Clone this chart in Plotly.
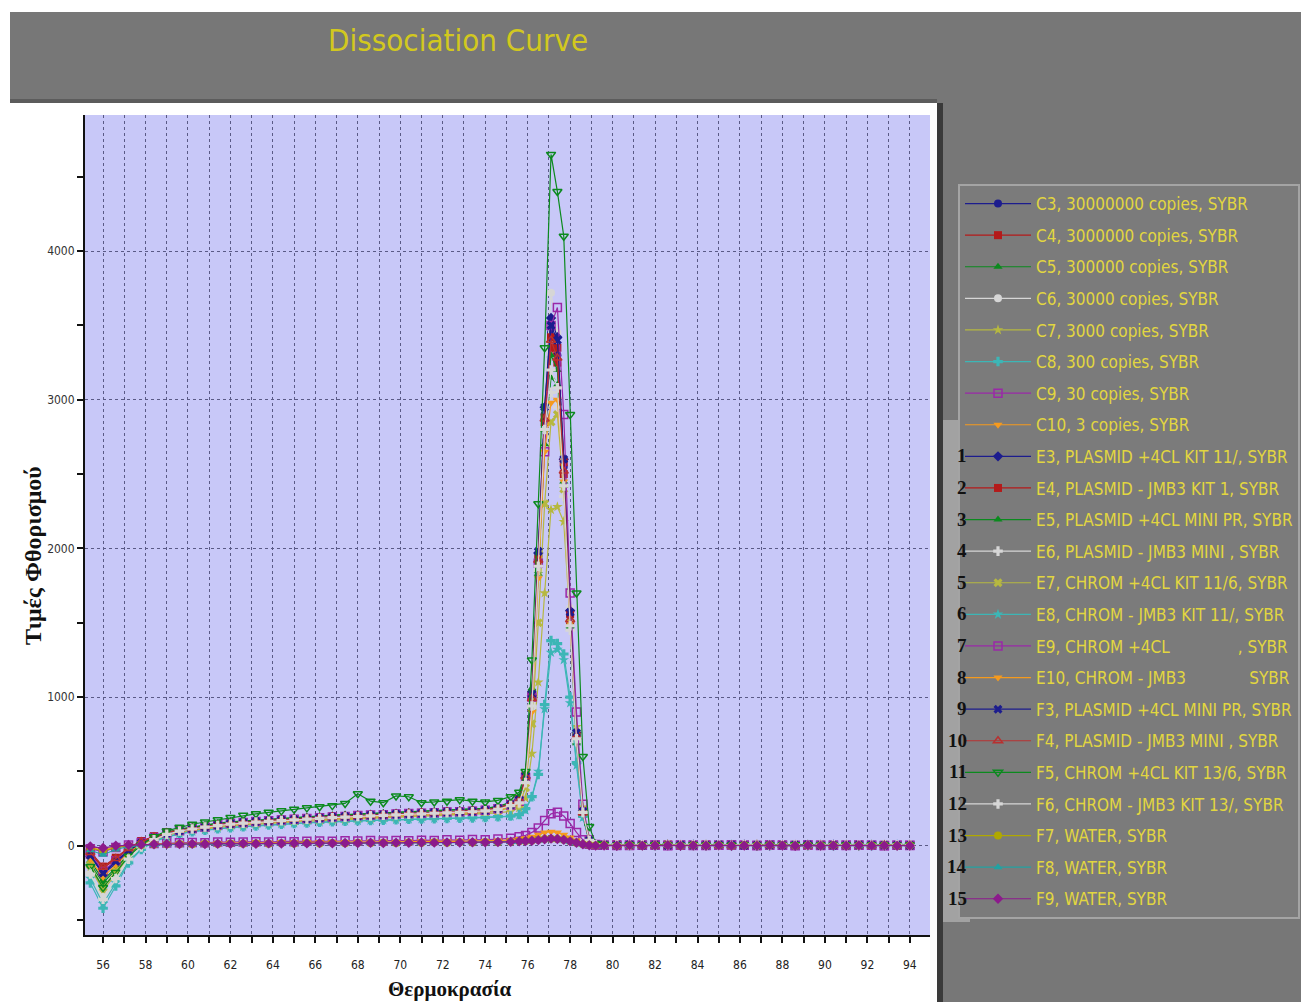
import plotly.graph_objects as go

# ---------------- data ----------------
temperature = [
    55.4, 56.0, 56.6, 57.2, 57.8, 58.4, 59.0, 59.6, 60.2, 60.8, 61.4, 62.0, 62.6, 63.2, 63.8, 64.4, 65.0,
    65.6, 66.2, 66.8, 67.4, 68.0, 68.6, 69.2, 69.8, 70.4, 71.0, 71.6, 72.2, 72.8, 73.4, 74.0, 74.6, 75.2,
    75.6, 75.9, 76.2, 76.5, 76.8, 77.1, 77.4, 77.7, 78.0, 78.3, 78.6, 78.9, 79.2,
    79.6, 80.2, 80.8, 81.4, 82.0, 82.6, 83.2, 83.8, 84.4, 85.0, 85.6, 86.2, 86.8, 87.4, 88.0, 88.6, 89.2,
    89.8, 90.4, 91.0, 91.6, 92.2, 92.8, 93.4, 94.0,
]

C3 = [-60, -180, -110, -35, 20, 55, 85, 100, 115, 125, 140, 150, 155, 162, 168, 172, 178, 183, 188, 192, 196, 202, 206, 208, 212, 216, 218, 222, 226, 228, 232, 238, 248, 272,
      300, 450, 1000, 1950, 2900, 3450, 3300, 2550, 1550, 750, 230, 35, 8,
      8, 5, 10, 3, 6, 2, 7, 4, 5, 3, 6, 2, 4, 5, 3, 6, 4, 2, 5, 3, 4, 6, 2, 4, 3]
C4 = [-50, -150, -90, -20, 30, 62, 90, 106, 118, 130, 142, 150, 158, 165, 170, 175, 180, 184, 190, 195, 198, 201, 205, 210, 214, 218, 221, 224, 228, 231, 234, 241, 252, 280,
      310, 470, 1020, 1900, 2850, 3350, 3250, 2500, 1500, 720, 220, 32, 7,
      6, 8, 4, 7, 3, 5, 6, 2, 8, 4, 5, 3, 6, 4, 7, 3, 5, 4, 6, 2, 5, 3, 6, 4, 5]
C5 = [-120, -250, -160, -60, 10, 50, 85, 110, 125, 136, 150, 160, 166, 172, 178, 183, 188, 193, 198, 204, 208, 212, 216, 220, 222, 227, 230, 233, 236, 240, 245, 251, 262, 290,
      320, 480, 1050, 1850, 2800, 3300, 3200, 2450, 1480, 700, 210, 30, 6,
      4, 7, 3, 6, 5, 2, 6, 4, 3, 7, 2, 5, 4, 6, 3, 5, 2, 6, 4, 3, 5, 7, 3, 4, 2]
C6 = [-200, -380, -230, -95, -10, 40, 78, 100, 115, 128, 138, 148, 153, 160, 165, 170, 176, 180, 186, 190, 194, 198, 203, 206, 210, 214, 217, 220, 224, 227, 230, 236, 246, 272,
      290, 430, 950, 1950, 3000, 3720, 3450, 2600, 1600, 780, 240, 40, 8,
      5, 3, 7, 4, 6, 2, 5, 8, 3, 4, 6, 2, 5, 3, 7, 4, 2, 6, 3, 5, 4, 2, 6, 3, 5]
C7 = [-150, -300, -190, -75, 0, 40, 70, 90, 104, 115, 125, 132, 138, 145, 150, 155, 160, 165, 168, 172, 176, 180, 184, 187, 190, 194, 196, 200, 204, 206, 210, 216, 222, 232,
      255, 320, 620, 1100, 1700, 2260, 2280, 2180, 1500, 800, 260, 45, 8,
      6, 4, 8, 3, 5, 7, 2, 4, 6, 3, 5, 4, 7, 2, 5, 3, 6, 4, 3, 5, 2, 6, 4, 3, 5]
C8 = [-250, -420, -270, -115, -25, 28, 58, 80, 95, 105, 115, 122, 128, 134, 140, 145, 150, 154, 158, 162, 165, 168, 170, 172, 175, 178, 180, 182, 184, 186, 188, 190, 196, 200,
      210, 250, 330, 480, 950, 1380, 1360, 1290, 1000, 560, 200, 35, 6,
      4, 6, 3, 5, 2, 7, 4, 3, 6, 5, 2, 4, 6, 3, 5, 4, 2, 6, 3, 4, 5, 3, 2, 5, 4]
C9 = [-20, -40, -12, 5, 10, 15, 18, 20, 22, 20, 25, 24, 26, 28, 25, 30, 28, 30, 32, 30, 34, 32, 35, 33, 36, 34, 38, 36, 40, 38, 42, 40, 45, 50,
      60, 70, 90, 120, 170, 215, 225, 200, 150, 90, 40, 10, 4,
      3, 5, 2, 4, 6, 3, 5, 2, 4, 3, 5, 4, 2, 6, 3, 4, 5, 2, 3, 5, 4, 3, 2, 4, 3]
C10 = [-10, -30, -5, 2, 8, 12, 14, 15, 16, 18, 17, 19, 20, 22, 21, 23, 22, 24, 25, 24, 26, 25, 27, 28, 26, 28, 30, 29, 31, 30, 32, 33, 35, 38,
       45, 50, 60, 75, 90, 95, 90, 75, 55, 35, 15, 5, 2,
       2, 4, 1, 3, 5, 2, 3, 1, 4, 2, 3, 5, 1, 3, 2, 4, 3, 1, 2, 4, 3, 2, 1, 3, 2]
E3 = [-70, -190, -120, -40, 15, 52, 82, 98, 112, 124, 138, 148, 154, 160, 166, 171, 176, 182, 186, 191, 195, 200, 204, 207, 211, 215, 217, 221, 225, 227, 231, 237, 247, 270,
      305, 460, 1010, 1970, 2950, 3550, 3420, 2600, 1580, 760, 235, 36, 8,
      7, 4, 9, 5, 3, 6, 4, 8, 2, 5, 3, 7, 4, 2, 6, 3, 5, 4, 7, 2, 4, 5, 3, 6, 4]
E4 = [-40, -140, -80, -15, 32, 64, 92, 108, 120, 132, 144, 152, 160, 166, 171, 176, 181, 186, 191, 196, 199, 203, 207, 211, 215, 219, 222, 225, 229, 232, 236, 242, 254, 282,
      315, 470, 1000, 1930, 2880, 3420, 3350, 2580, 1560, 740, 225, 34, 7,
      5, 7, 3, 6, 4, 8, 2, 5, 6, 3, 7, 4, 5, 2, 6, 4, 3, 7, 5, 2, 6, 3, 4, 5, 3]
E5 = [-100, -230, -150, -55, 12, 52, 88, 112, 127, 138, 152, 161, 167, 174, 180, 185, 190, 195, 200, 206, 210, 214, 218, 221, 224, 228, 231, 235, 238, 242, 246, 252, 265, 292,
      330, 490, 1060, 1830, 2700, 3150, 3100, 2420, 1470, 690, 205, 30, 6,
      3, 6, 4, 7, 2, 5, 3, 6, 4, 5, 7, 2, 4, 6, 3, 5, 4, 2, 6, 3, 4, 5, 2, 6, 3]
E6 = [-180, -350, -210, -85, -5, 42, 78, 98, 112, 124, 135, 145, 151, 158, 163, 168, 173, 178, 183, 188, 192, 196, 200, 204, 207, 211, 214, 218, 221, 224, 228, 234, 244, 268,
      285, 420, 930, 1850, 2750, 3050, 2950, 2350, 1450, 700, 215, 34, 7,
      6, 3, 5, 2, 7, 4, 6, 3, 5, 2, 4, 7, 3, 5, 6, 2, 4, 3, 6, 5, 3, 4, 7, 2, 5]
E7 = [-130, -280, -170, -65, 5, 45, 75, 95, 108, 119, 130, 138, 144, 150, 156, 161, 166, 170, 175, 179, 183, 187, 190, 193, 197, 200, 203, 206, 210, 213, 217, 223, 233, 258,
      275, 390, 820, 1500, 2300, 2850, 2900, 2400, 1500, 760, 240, 38, 8,
      4, 6, 2, 5, 7, 3, 4, 6, 2, 5, 3, 6, 4, 5, 2, 7, 3, 4, 6, 2, 5, 3, 6, 4, 2]
E8 = [-220, -390, -250, -105, -20, 30, 60, 82, 96, 106, 116, 123, 129, 135, 141, 146, 151, 155, 159, 163, 166, 169, 171, 173, 176, 179, 181, 183, 185, 187, 189, 191, 195, 198,
      205, 240, 330, 500, 920, 1300, 1320, 1250, 960, 540, 190, 32, 6,
      5, 3, 6, 2, 4, 7, 3, 5, 4, 2, 6, 3, 5, 4, 7, 2, 4, 6, 3, 5, 2, 4, 3, 6, 4]
E9 = [-55, -170, -100, -30, 22, 56, 86, 102, 116, 127, 141, 151, 157, 164, 169, 174, 179, 184, 189, 193, 197, 203, 207, 209, 213, 217, 219, 223, 227, 229, 233, 239, 249, 274,
      300, 460, 1000, 1900, 2650, 3500, 3620, 2900, 1700, 900, 280, 40, 8,
      4, 2, 6, 3, 5, 1, 4, 6, 2, 3, 5, 4, 2, 6, 3, 1, 5, 3, 4, 2, 6, 3, 1, 4, 2]
E10 = [-90, -210, -130, -45, 15, 50, 80, 96, 110, 122, 134, 143, 149, 156, 161, 166, 171, 176, 181, 185, 189, 194, 198, 201, 205, 208, 211, 215, 218, 221, 225, 231, 241, 266,
       280, 420, 900, 1800, 2650, 2980, 3000, 2450, 1500, 740, 230, 36, 7,
       3, 5, 2, 6, 4, 3, 7, 2, 5, 4, 6, 3, 2, 5, 4, 6, 3, 5, 2, 4, 3, 6, 4, 2, 5]
F3 = [-65, -185, -105, -32, 18, 54, 84, 101, 114, 126, 139, 149, 156, 163, 167, 173, 177, 182, 187, 193, 197, 201, 205, 209, 213, 216, 219, 223, 227, 229, 233, 239, 250, 276,
      310, 470, 1020, 1980, 2950, 3500, 3400, 2600, 1570, 760, 230, 35, 8,
      6, 4, 7, 3, 5, 2, 6, 4, 3, 7, 5, 2, 4, 6, 3, 5, 7, 2, 4, 3, 6, 5, 3, 4, 2]
F4 = [-45, -145, -85, -18, 28, 60, 88, 104, 117, 129, 141, 149, 157, 163, 169, 174, 179, 183, 189, 194, 197, 200, 204, 209, 213, 217, 220, 223, 227, 230, 233, 240, 251, 278,
      305, 465, 990, 1920, 2870, 3400, 3280, 2520, 1520, 730, 220, 33, 7,
      5, 3, 6, 4, 2, 7, 5, 3, 6, 4, 2, 5, 7, 3, 4, 6, 2, 5, 3, 6, 4, 2, 5, 3, 6]
F5 = [-140, -280, -180, -70, 5, 60, 100, 125, 145, 160, 175, 190, 205, 215, 225, 235, 245, 255, 262, 270, 285, 350, 300, 290, 335, 330, 290, 295, 300, 310, 300, 295, 305, 330,
      360, 500, 1250, 2300, 3350, 4650, 4400, 4100, 2900, 1700, 600, 130, 15,
      8, 4, 7, 3, 6, 5, 2, 7, 4, 6, 3, 5, 2, 6, 4, 7, 3, 5, 4, 6, 2, 5, 3, 4, 6]
F6 = [-190, -360, -220, -90, -8, 41, 77, 99, 113, 126, 136, 146, 152, 159, 164, 169, 174, 179, 184, 189, 193, 197, 201, 205, 208, 212, 215, 219, 222, 225, 229, 235, 245, 270,
      288, 425, 940, 1880, 2800, 3200, 3080, 2420, 1480, 720, 225, 36, 7,
      4, 6, 3, 7, 2, 5, 4, 6, 3, 5, 2, 7, 4, 3, 6, 5, 2, 4, 6, 3, 5, 4, 2, 6, 3]
F7 = [-15, -35, -12, 0, 5, 8, 10, 12, 10, 14, 12, 15, 13, 16, 14, 17, 15, 18, 16, 19, 17, 20, 18, 21, 19, 22, 20, 23, 21, 24, 22, 25, 24, 28,
      30, 32, 35, 40, 45, 48, 46, 40, 30, 20, 10, 5, 2,
      3, 1, 4, 2, 3, 5, 1, 3, 2, 4, 1, 3, 2, 5, 3, 1, 4, 2, 3, 1, 4, 2, 3, 1, 2]
F8 = [-30, -60, -25, -5, 3, 6, 9, 11, 12, 10, 13, 12, 14, 13, 15, 14, 16, 15, 17, 16, 18, 17, 19, 18, 20, 19, 21, 20, 22, 21, 23, 22, 24, 26,
      28, 30, 32, 36, 42, 45, 44, 38, 28, 18, 9, 4, 2,
      2, 4, 1, 3, 2, 4, 2, 1, 3, 4, 2, 3, 1, 4, 2, 3, 1, 2, 4, 3, 1, 2, 3, 2, 1]
F9 = [-5, -15, 0, 5, 8, 10, 12, 11, 13, 12, 14, 13, 15, 14, 16, 15, 17, 16, 18, 17, 19, 18, 20, 19, 21, 20, 22, 21, 23, 22, 24, 23, 25, 27,
      30, 32, 34, 38, 44, 48, 46, 40, 30, 20, 10, 4, 1,
      2, 0, 3, 1, 2, 4, 0, 2, 1, 3, 0, 2, 1, 4, 2, 0, 3, 1, 2, 0, 3, 1, 2, 0, 1]

NB = "\u00a0"
series_names = [
    "C3, 30000000 copies, SYBR", "C4, 3000000 copies, SYBR", "C5, 300000 copies, SYBR",
    "C6, 30000 copies, SYBR", "C7, 3000 copies, SYBR", "C8, 300 copies, SYBR",
    "C9, 30 copies, SYBR", "C10, 3 copies, SYBR",
    "E3, PLASMID +4CL KIT 11/, SYBR", "E4, PLASMID - JMB3 KIT 1, SYBR",
    "E5, PLASMID +4CL MINI PR, SYBR", "E6, PLASMID - JMB3 MINI , SYBR",
    "E7, CHROM +4CL KIT 11/6, SYBR", "E8, CHROM - JMB3 KIT 11/, SYBR",
    "E9, CHROM +4CL" + NB * 14 + ", SYBR", "E10, CHROM - JMB3" + NB * 13 + "SYBR",
    "F3, PLASMID +4CL MINI PR, SYBR", "F4, PLASMID - JMB3 MINI , SYBR",
    "F5, CHROM +4CL KIT 13/6, SYBR", "F6, CHROM - JMB3 KIT 13/, SYBR",
    "F7, WATER, SYBR", "F8, WATER, SYBR", "F9, WATER, SYBR",
]
series_values = [C3, C4, C5, C6, C7, C8, C9, C10, E3, E4, E5, E6, E7, E8, E9, E10,
                 F3, F4, F5, F6, F7, F8, F9]
legend_numbers = [str(i) for i in range(1, 16)]
x_title = "Θερμοκρασία"
y_title = "Τιμές Φθορισμού"
chart_title = "Dissociation Curve"

# ---------------- styles ----------------
NAVY, RED, GREEN, LGRAY = "#1c1c8e", "#b41a1a", "#0b8a1e", "#d6d6d6"
OLIVE, CYAN, PURPLE, ORANGE = "#b6b840", "#3cb6b6", "#9a28a8", "#f59a1e"
styles = [
    (NAVY, "circle"), (RED, "square"), (GREEN, "triangle-up"), (LGRAY, "circle"),
    (OLIVE, "star"), (CYAN, "cross"), (PURPLE, "square-open"), (ORANGE, "triangle-down"),
    (NAVY, "diamond"), (RED, "square"), (GREEN, "triangle-up"), (LGRAY, "cross"),
    (OLIVE, "x"), (CYAN, "star"), (PURPLE, "square-open"), (ORANGE, "triangle-down"),
    (NAVY, "x"), ("#b83030", "triangle-up-open"), (GREEN, "triangle-down-open"), (LGRAY, "cross"),
    ("#b0a800", "circle"), ("#22a2a2", "triangle-up"), ("#8c1a8c", "diamond"),
]

W, H = 1301, 1002
PL, PR, PT, PB = 85, 930, 115, 935


def px_x(x):
    return (x - PL) / (PR - PL)


def px_y(y):
    return (PB - y) / (PB - PT)


NARROW = "Liberation Sans Narrow, Arial Narrow, DejaVu Sans Condensed, sans-serif"
SERIF = "Liberation Serif, Times New Roman, DejaVu Serif, serif"

fig = go.Figure()
for name, vals, (color, sym) in zip(series_names, series_values, styles):
    is_open = sym.endswith("-open")
    fig.add_trace(go.Scatter(
        x=temperature, y=vals, name=name, mode="lines+markers",
        legendgroup=name,
        line=dict(color=color, width=1.2),
        marker=dict(symbol=sym, size=8, color=color,
                    line=dict(color=color, width=1.5 if is_open else 0)),
    ))

LEG_FONT = 17
LEG_TOP = 184
ROW_GAP = 6.5
fig.update_layout(
    width=W, height=H,
    margin=dict(l=PL, r=W - PR, t=PT, b=H - PB, autoexpand=False),
    paper_bgcolor="#777777", plot_bgcolor="#c8c8f8",
    showlegend=True,
    legend=dict(
        x=px_x(958), y=px_y(LEG_TOP), xanchor="left", yanchor="top",
        bgcolor="#7b7b7b", bordercolor="#a4a4a4", borderwidth=2,
        font=dict(family=NARROW, size=LEG_FONT, color="#e2d640"),
        itemwidth=66, tracegroupgap=ROW_GAP, traceorder="grouped",
    ),
    xaxis=dict(
        range=[55.15, 94.95], tick0=56, dtick=2, ticks="outside", ticklen=6, tickwidth=1.5,
        tickcolor="#111", showline=True, linecolor="#111", linewidth=2, zeroline=False,
        showgrid=True, gridcolor="#5a5a86", griddash="dot", gridwidth=1,
        tickfont=dict(family=NARROW, size=12, color="#222"), ticklabelstandoff=12,
        minor=dict(dtick=1, ticks="outside", ticklen=6, tickwidth=1.5, tickcolor="#111",
                   showgrid=True, gridcolor="#5a5a86", griddash="dot", gridwidth=1),
    ),
    yaxis=dict(
        range=[-600, 4915], tick0=0, dtick=1000, ticks="outside", ticklen=6, tickwidth=1.5,
        tickcolor="#111", showline=True, linecolor="#111", linewidth=2, zeroline=False,
        showgrid=True, gridcolor="#5a5a86", griddash="dot", gridwidth=1,
        tickfont=dict(family=NARROW, size=12, color="#333"),
        minor=dict(dtick=500, ticks="outside", ticklen=6, tickwidth=1.5, tickcolor="#111",
                   showgrid=False),
    ),
)

shapes = [
    dict(type="rect", xref="paper", yref="paper", x0=px_x(0), x1=px_x(W), y0=px_y(12), y1=px_y(0),
         fillcolor="white", line_width=0, layer="below"),
    dict(type="rect", xref="paper", yref="paper", x0=px_x(0), x1=px_x(10), y0=px_y(H), y1=px_y(0),
         fillcolor="white", line_width=0, layer="below"),
    dict(type="rect", xref="paper", yref="paper", x0=px_x(10), x1=px_x(937), y0=px_y(103), y1=px_y(99),
         fillcolor="#5c5c5c", line_width=0, layer="below"),
    dict(type="rect", xref="paper", yref="paper", x0=px_x(10), x1=px_x(937), y0=px_y(H), y1=px_y(103),
         fillcolor="white", line_width=0, layer="below"),
    dict(type="rect", xref="paper", yref="paper", x0=px_x(937), x1=px_x(943), y0=px_y(H), y1=px_y(103),
         fillcolor="#3a3a3a", line_width=0, layer="below"),
    dict(type="rect", xref="x domain", yref="y domain", x0=0, x1=1, y0=0, y1=1,
         fillcolor="#c8c8f8", line_width=0, layer="below"),
    dict(type="rect", xref="paper", yref="paper", x0=px_x(943), x1=px_x(970), y0=px_y(922), y1=px_y(420),
         fillcolor="#a2a2a2", line_width=0, layer="below"),
]

annotations = [
    dict(text=chart_title, xref="paper", yref="paper", x=px_x(458), y=px_y(40),
         xanchor="center", yanchor="middle", showarrow=False,
         font=dict(family=NARROW, size=31, color="#d2c81e")),
    dict(text="<b>" + x_title + "</b>", xref="paper", yref="paper", x=px_x(450), y=px_y(989),
         xanchor="center", yanchor="middle", showarrow=False,
         font=dict(family=SERIF, size=21, color="#111")),
    dict(text="<b>" + y_title + "</b>", xref="paper", yref="paper", x=px_x(33), y=px_y(556),
         xanchor="center", yanchor="middle", showarrow=False, textangle=-90,
         font=dict(family=SERIF, size=24, color="#111")),
]
ROW0 = 203
ROW_STEP = LEG_FONT * 1.3 + 3 + ROW_GAP
for k, lab in enumerate(legend_numbers):
    ypx = ROW0 + (8 + k) * ROW_STEP
    annotations.append(dict(text="<b>" + lab + "</b>", xref="paper", yref="paper",
                            x=px_x(969), y=px_y(ypx), xanchor="right", yanchor="middle",
                            showarrow=False, font=dict(family=SERIF, size=19, color="#111")))

fig.update_layout(shapes=shapes, annotations=annotations)
fig.write_html("out.html")
